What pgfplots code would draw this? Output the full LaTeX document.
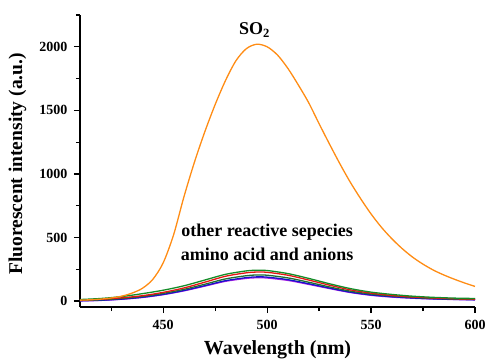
\documentclass[border=0pt]{standalone}
\usepackage{pgfplots}
\pgfplotsset{compat=1.18}
\usepackage{fontspec}
\setmainfont{Liberation Serif}
\definecolor{corange}{RGB}{255,140,20}
\definecolor{cgreen}{RGB}{20,140,40}
\definecolor{cred}{RGB}{230,20,20}
\definecolor{cdgreen}{RGB}{30,110,50}
\definecolor{cblue}{RGB}{20,20,200}
\definecolor{cpurple}{RGB}{170,30,230}
\begin{document}
\begin{tikzpicture}
\begin{axis}[
  scale only axis, width=395pt, height=292pt,
  xmin=410, xmax=600, ymin=-47, ymax=2250,
  axis x line*=bottom, axis y line*=left,
  axis line style={-, line width=1.3pt},
  xtick={450,500,550,600}, minor xtick={425,475,525,575},
  ytick={0,500,1000,1500,2000}, minor ytick={250,750,1250,1750,2250},
  tick align=outside,
  major tick length=6pt, minor tick length=4pt,
  every tick/.style={black, line width=1.2pt},
  /pgf/number format/assume math mode=true,
  /pgf/number format/1000 sep={},
  tick label style={font=\fontsize{14}{17}\selectfont\bfseries},
  xticklabel style={yshift=-4pt},
  yticklabel style={xshift=-3pt},
  xlabel={Wavelength (nm)}, ylabel={Fluorescent intensity (a.u.)},
  xlabel style={font=\fontsize{20}{24}\selectfont\bfseries, at={(axis description cs:0.5,-0.147)}, anchor=center},
  ylabel style={font=\fontsize{19.5}{24}\selectfont\bfseries, at={(axis description cs:-0.158,0.49)}, anchor=center, rotate=0},
]
\coordinate (sw) at (rel axis cs:0,0);
\coordinate (ne) at (rel axis cs:1,1);
\addplot[cpurple, smooth, line width=1.3pt, no marks] coordinates {(410,1)(420,5)(430,14)(440,28)(450,50)(460,80)(470,117)(480,155)(490,178)(495,183)(500,181)(510,162)(520,131)(530,98)(540,67)(550,45)(560,31)(570,22)(580,16)(590,12)(600,9)};
\addplot[cblue, smooth, line width=1.3pt, no marks] coordinates {(410,2)(420,6)(430,15)(440,30)(450,52)(460,83)(470,121)(480,160)(490,184)(495,190)(500,188)(510,168)(520,136)(530,102)(540,70)(550,48)(560,34)(570,24)(580,17)(590,13)(600,10)};
\addplot[cdgreen, smooth, line width=1.3pt, no marks] coordinates {(410,5)(420,10)(430,20)(440,36)(450,60)(460,92)(470,132)(480,174)(490,199)(495,205)(500,203)(510,182)(520,148)(530,111)(540,78)(550,55)(560,40)(570,29)(580,21)(590,16)(600,13)};
\addplot[cred, smooth, line width=1.3pt, no marks] coordinates {(410,8)(420,14)(430,25)(440,42)(450,68)(460,103)(470,148)(480,195)(490,222)(495,228)(500,226)(510,203)(520,165)(530,125)(540,88)(550,62)(560,44)(570,32)(580,24)(590,18)(600,15)};
\addplot[cgreen, smooth, line width=1.3pt, no marks] coordinates {(410,12)(420,20)(430,35)(440,58)(450,85)(460,120)(470,165)(480,210)(490,237)(495,242)(500,240)(510,216)(520,178)(530,136)(540,98)(550,70)(560,52)(570,38)(580,29)(590,23)(600,20)};
\addplot[corange, smooth, line width=1.3pt, no marks] coordinates {(410,7)(415,10)(420,15)(425,24)(430,38)(435,62)(440,100)(445,170)(450,300)(455,520)(460,820)(465,1090)(470,1330)(475,1545)(480,1735)(485,1890)(490,1985)(495,2020)(500,2000)(505,1935)(510,1830)(515,1700)(520,1560)(525,1395)(530,1235)(535,1080)(540,935)(545,805)(550,685)(555,580)(560,490)(565,412)(570,345)(575,290)(580,243)(585,205)(590,172)(595,142)(600,115)};
\node[font=\fontsize{18}{22}\selectfont\bfseries] at (axis cs:494,2134) {SO\textsubscript{2}};
\node[font=\fontsize{18}{22}\selectfont\bfseries, align=center] at (axis cs:500,465) {other reactive sepecies\\[2pt]amino acid and anions};
\end{axis}
\pgfresetboundingbox
\path[use as bounding box] ([shift={(-80pt,-55pt)}]sw) rectangle ([shift={(11pt,15pt)}]ne);
\end{tikzpicture}
\end{document}
